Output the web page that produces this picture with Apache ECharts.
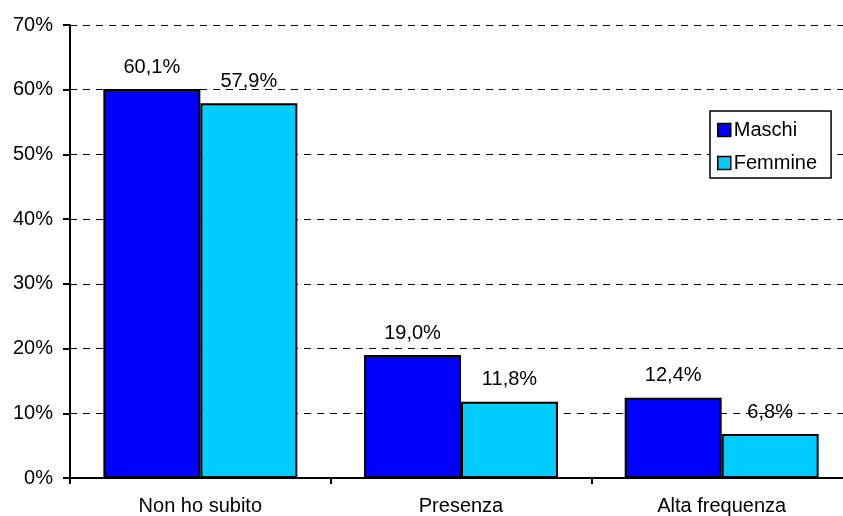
<!DOCTYPE html>
<html>
<head>
<meta charset="utf-8">
<script src="https://cdn.jsdelivr.net/npm/echarts@6/dist/echarts.min.js"></script>
<style>
  html, body { margin: 0; padding: 0; background: #fff; }
  #chart { width: 843px; height: 516px; }
</style>
</head>
<body>
<div id="chart"></div>
<script>
const categories = ['Non ho subito', 'Presenza', 'Alta frequenza']
const seriesNames = ['Maschi', 'Femmine']
const maschi = [60.1, 19.0, 12.4]
const femmine = [57.9, 11.8, 6.8]

const fontFamily = '"Liberation Sans", Arial, sans-serif'

function pct(v) {
  return v.toFixed(1).replace('.', ',') + '%'
}

const chart = echarts.init(document.getElementById('chart'))

function barSeries(name, data, color) {
  return {
    name: name,
    type: 'bar',
    data: data,
    barGap: '0%',
    barCategoryGap: '25.6%',
    itemStyle: {
      color: color,
      borderColor: '#000',
      borderWidth: 2
    },
    label: {
      show: true,
      position: 'top',
      distance: 12,
      color: '#000',
      fontFamily: fontFamily,
      fontSize: 20,
      formatter: p => pct(p.value)
    }
  }
}

chart.setOption({
  animation: false,
  backgroundColor: '#fff',
  grid: {
    left: 70,
    top: 25,
    width: 782,
    height: 453,
    outerBoundsMode: 'none'
  },
  legend: {
    orient: 'vertical',
    left: 710,
    top: 111,
    data: seriesNames,
    icon: 'rect',
    itemWidth: 13,
    itemHeight: 13,
    itemGap: 13,
    padding: [9, 14, 5, 7],
    backgroundColor: '#fff',
    borderColor: '#000',
    borderWidth: 1.5,
    textStyle: {
      color: '#000',
      fontFamily: fontFamily,
      fontSize: 20,
      padding: [0, 0, 0, -2]
    },
    itemStyle: {
      borderColor: '#000',
      borderWidth: 1.5
    }
  },
  xAxis: {
    type: 'category',
    data: categories,
    axisLine: { lineStyle: { color: '#000', width: 2 } },
    axisTick: { show: true, length: 6, lineStyle: { color: '#000', width: 2 } },
    axisLabel: {
      color: '#000',
      fontFamily: fontFamily,
      fontSize: 20,
      margin: 18
    }
  },
  yAxis: {
    type: 'value',
    min: 0,
    max: 70,
    interval: 10,
    axisLine: { show: true, lineStyle: { color: '#000', width: 2 } },
    axisTick: { show: true, length: 7, lineStyle: { color: '#000', width: 2 } },
    axisLabel: {
      color: '#000',
      fontFamily: fontFamily,
      fontSize: 20,
      margin: 17,
      formatter: '{value}%'
    },
    splitLine: {
      show: true,
      lineStyle: { color: '#000', type: [7, 6], width: 1 }
    }
  },
  series: [
    barSeries(seriesNames[0], maschi, '#0000ff'),
    barSeries(seriesNames[1], femmine, '#00ccff')
  ]
})
</script>
</body>
</html>
